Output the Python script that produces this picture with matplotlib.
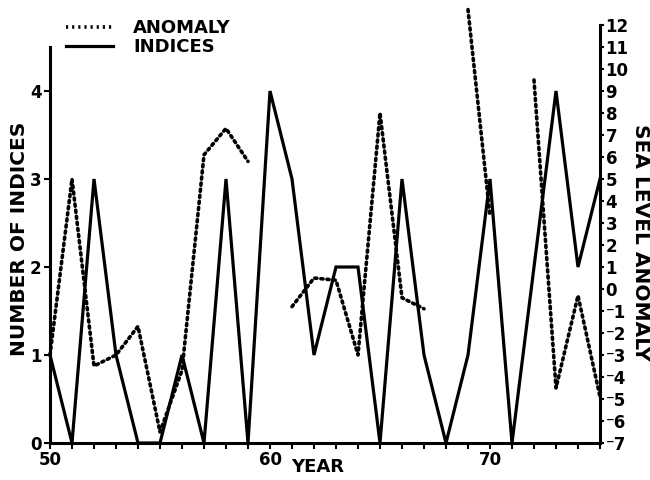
import numpy as np
import matplotlib
matplotlib.use("Agg")
import matplotlib.pyplot as plt
from matplotlib.lines import Line2D

years = list(range(50, 76))
indices = [1, 0, 3, 1, 0, 0, 1, 0, 3, 0, 4, 3, 1, 2, 2, 0, 3, 1, 0, 1, 3, 0, 2, 4, 2, 3]
nan = np.nan
anomaly = [-3, 5, -3.5, -3, -1.7, -6.5, -3.7, 6.1, 7.3, 5.8, nan, -0.8, 0.5, 0.4, -3,
           8, -0.4, -0.9, nan, 12.7, 3.3, nan, 9.5, -4.5, -0.3, -4.9]

left_ticks = [0, 1, 2, 3, 4]
right_ticks = list(range(-7, 13))
x_labels = {50: "50", 60: "60", 70: "70"}

plt.rcParams['font.family'] = ['DejaVu Sans']
plt.rcParams['font.weight'] = 'bold'

fig = plt.figure(figsize=(6.5, 4.8), dpi=100)
ax = fig.add_axes([50/650, 37/480, 550/650, 438/480])
ax2 = ax.twinx()

ax.plot(years, indices, color='black', lw=2.3, solid_joinstyle='miter', clip_on=False)
ax2.plot(years, anomaly, color='black', lw=2.6, linestyle=(0, (0.6, 1.1)),
         dash_capstyle='round', clip_on=False)

top_left = (443 - 5) / 88
ax.set_xlim(50, 75)
ax.set_ylim(0, top_left)
ax2.set_ylim(-7, -7 + 4 * top_left)

for a in (ax, ax2):
    a.spines['top'].set_visible(False)
ax.spines['right'].set_visible(False)
ax2.spines['left'].set_visible(False)
ax2.spines['bottom'].set_visible(False)
ax.spines['left'].set_bounds(0, 4.5)
ax2.spines['right'].set_bounds(-7, 12)
for sp in [ax.spines['left'], ax.spines['bottom'], ax2.spines['right']]:
    sp.set_linewidth(2.2)

ax.set_xticks(years)
ax.set_xticklabels([x_labels.get(y, "") for y in years])
ax.set_yticks(left_ticks)
ax.set_yticklabels([str(v) for v in left_ticks])
ax2.set_yticks(right_ticks)
ax2.set_yticklabels([("\u207b" + str(-v)) if v < 0 else str(v) for v in right_ticks])

ax.tick_params(axis='x', direction='out', length=4, width=1.5, pad=2, labelsize=12)
ax.tick_params(axis='y', direction='out', length=4, width=1.5, pad=2, labelsize=12)
ax2.tick_params(axis='y', direction='out', length=3, width=1.5, pad=1, labelsize=11)
for lab in ax.get_xticklabels() + ax.get_yticklabels():
    lab.set_fontweight('bold')
for lab in ax2.get_yticklabels():
    lab.set_fontweight('bold')
    lab.set_family(['Liberation Sans Narrow', 'DejaVu Sans'])
    lab.set_fontsize(12)

ax.set_xlabel("YEAR", fontsize=13, fontweight='bold', va='center')
ax.xaxis.set_label_coords(0.486, -0.055)
ax.set_ylabel("NUMBER OF INDICES", fontsize=14.5, fontweight='bold', va='center')
ax.yaxis.set_label_coords(-0.055, 0.466)
ax2.set_ylabel("SEA LEVEL ANOMALY", fontsize=14.5, fontweight='bold', rotation=-90, va='center')
ax2.yaxis.set_label_coords(1.073, 0.459)

handles = [Line2D([], [], color='black', lw=2.6, linestyle=(0, (0.6, 1.1))),
           Line2D([], [], color='black', lw=2.3)]
fig.legend(handles, ["ANOMALY", "INDICES"], loc='upper left',
           bbox_to_anchor=(50/650, 1 - 3/480), frameon=False, handlelength=2.6,
           handletextpad=1.1, labelspacing=0.05, prop={'weight': 'bold', 'size': 13})

fig.savefig("out.png", dpi=100)
